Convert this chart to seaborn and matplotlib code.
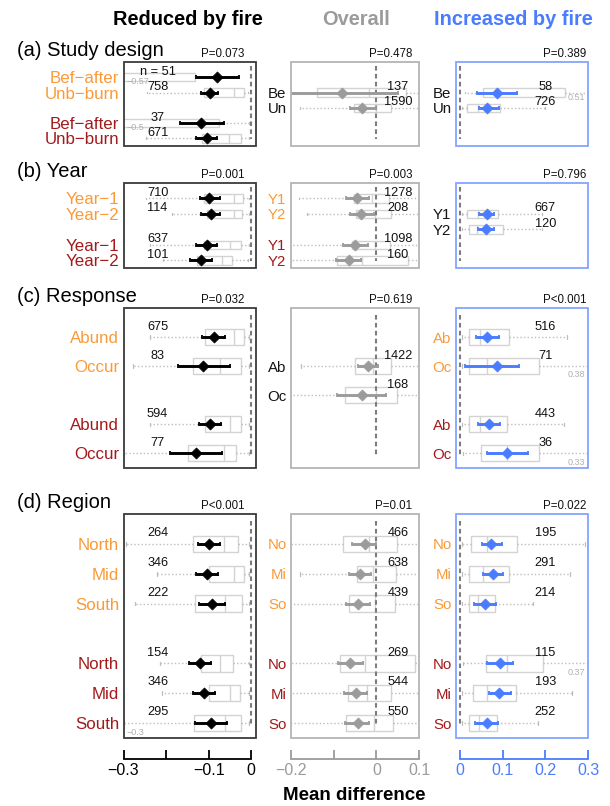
import numpy as np
import pandas as pd
import matplotlib
matplotlib.use("Agg")
import matplotlib.pyplot as plt
from matplotlib.patches import Rectangle
import seaborn as sns

sns.set_theme(style="white")
plt.rcParams["font.family"] = ["Liberation Sans", "DejaVu Sans"]
plt.rcParams["axes.unicode_minus"] = True

FIG_W, FIG_H = 610, 806

# ---------------------------------------------------------------- labels
a_long = ["Bef−after", "Unb−burn", "Bef−after", "Unb−burn"]
a_short = ["Be", "Un"]
b_long = ["Year−1", "Year−2", "Year−1", "Year−2"]
b_short = ["Y1", "Y2", "Y1", "Y2"]
b_short2 = ["Y1", "Y2"]
c_long = ["Abund", "Occur", "Abund", "Occur"]
c_short = ["Ab", "Oc", "Ab", "Oc"]
c_short2 = ["Ab", "Oc"]
d_long = ["North", "Mid", "South", "North", "Mid", "South"]
d_short = ["No", "Mi", "So", "No", "Mi", "So"]

section_titles = ["(a) Study design", "(b) Year", "(c) Response", "(d) Region"]
column_titles = ["Reduced by fire", "Overall", "Increased by fire"]
p_values = [["P=0.073", "P=0.478", "P=0.389"],
            ["P=0.001", "P=0.003", "P=0.796"],
            ["P=0.032", "P=0.619", "P<0.001"],
            ["P<0.001", "P=0.01", "P=0.022"]]

# group codes: 1 = first group (orange), 2 = second group (dark red), 0 = pooled (black)
# box rows: (lower whisker, Q1, median, Q3, upper whisker)

# ---------------------------------------------------------------- (a) Study design
red_a_group = [1, 1, 2, 2]
red_a_n = [51, 758, 37, 671]
red_a_mean = [-0.080, -0.098, -0.117, -0.104]
red_a_lo = [-0.129, -0.119, -0.168, -0.129]
red_a_hi = [-0.028, -0.077, -0.063, -0.080]
red_a_box = [(-0.57, -0.36, -0.31, -0.133, -0.040),
             (-0.244, -0.112, -0.041, -0.018, -0.008),
             (-0.50, -0.36, -0.31, -0.076, -0.006),
             (-0.247, -0.116, -0.053, -0.024, -0.006)]

all_a_group = [0, 0]
all_a_n = [137, 1590]
all_a_mean = [-0.081, -0.033]
all_a_lo = [-0.213, -0.062]
all_a_hi = [0.050, -0.002]
all_a_box = [(-0.30, -0.138, -0.017, 0.068, 0.15),
             (-0.178, -0.052, -0.002, 0.033, 0.15)]

inc_a_group = [0, 0]
inc_a_n = [58, 726]
inc_a_mean = [0.086, 0.064]
inc_a_lo = [0.039, 0.045]
inc_a_hi = [0.133, 0.092]
inc_a_box = [(0.012, 0.055, 0.085, 0.245, 0.51),
             (0.004, 0.017, 0.043, 0.094, 0.20)]

# ---------------------------------------------------------------- (b) Year
red_b_group = [1, 1, 2, 2]
red_b_n = [710, 114, 637, 101]
red_b_mean = [-0.100, -0.094, -0.105, -0.117]
red_b_lo = [-0.121, -0.118, -0.129, -0.143]
red_b_hi = [-0.074, -0.073, -0.080, -0.092]
red_b_box = [(-0.246, -0.112, -0.041, -0.020, -0.006),
             (-0.186, -0.105, -0.040, -0.022, -0.006),
             (-0.237, -0.110, -0.049, -0.024, -0.006),
             (-0.207, -0.127, -0.069, -0.045, -0.008)]

all_b_group = [1, 1, 2, 2]
all_b_n = [1278, 208, 1098, 160]
all_b_mean = [-0.045, -0.035, -0.050, -0.065]
all_b_lo = [-0.071, -0.062, -0.079, -0.095]
all_b_hi = [-0.017, -0.006, -0.019, -0.035]
all_b_box = [(-0.180, -0.053, -0.010, 0.030, 0.15),
             (-0.161, -0.047, -0.004, 0.033, 0.15),
             (-0.25, -0.058, -0.004, 0.031, 0.15),
             (-0.25, -0.093, -0.033, 0.074, 0.15)]

inc_b_group = [0, 0]
inc_b_n = [667, 120]
inc_b_mean = [0.063, 0.061]
inc_b_lo = [0.045, 0.043]
inc_b_hi = [0.080, 0.080]
inc_b_box = [(0.004, 0.017, 0.043, 0.088, 0.192),
             (0.004, 0.020, 0.041, 0.100, 0.192)]

# ---------------------------------------------------------------- (c) Response
red_c_group = [1, 1, 2, 2]
red_c_n = [675, 83, 594, 77]
red_c_mean = [-0.088, -0.113, -0.098, -0.129]
red_c_lo = [-0.116, -0.173, -0.123, -0.191]
red_c_hi = [-0.062, -0.051, -0.070, -0.069]
red_c_box = [(-0.238, -0.108, -0.040, -0.018, -0.006),
             (-0.277, -0.137, -0.073, -0.024, -0.006),
             (-0.237, -0.109, -0.049, -0.024, -0.006),
             (-0.298, -0.149, -0.063, -0.035, -0.006)]

all_c_group = [0, 0]
all_c_n = [1422, 168]
all_c_mean = [-0.019, -0.034]
all_c_lo = [-0.043, -0.091]
all_c_hi = [0.004, 0.022]
all_c_box = [(-0.177, -0.050, -0.008, 0.033, 0.15),
             (-0.25, -0.073, 0.000, 0.048, 0.15)]

inc_c_group = [1, 1, 2, 2]
inc_c_n = [516, 71, 443, 36]
inc_c_mean = [0.064, 0.086, 0.069, 0.111]
inc_c_lo = [0.038, 0.012, 0.043, 0.063]
inc_c_hi = [0.091, 0.139, 0.094, 0.160]
inc_c_box = [(0.004, 0.020, 0.047, 0.114, 0.250),
             (0.004, 0.020, 0.063, 0.185, 0.38),
             (0.004, 0.022, 0.047, 0.111, 0.243),
             (0.008, 0.049, 0.110, 0.185, 0.33)]

# ---------------------------------------------------------------- (d) Region
red_d_group = [1, 1, 1, 2, 2, 2]
red_d_n = [264, 346, 222, 154, 346, 295]
red_d_mean = [-0.100, -0.104, -0.092, -0.121, -0.112, -0.094]
red_d_lo = [-0.125, -0.129, -0.123, -0.147, -0.137, -0.131]
red_d_hi = [-0.074, -0.079, -0.061, -0.094, -0.084, -0.057]
red_d_box = [(-0.293, -0.137, -0.065, -0.030, -0.006),
             (-0.222, -0.100, -0.040, -0.018, -0.006),
             (-0.272, -0.133, -0.061, -0.022, -0.006),
             (-0.215, -0.117, -0.073, -0.043, -0.006),
             (-0.209, -0.100, -0.049, -0.026, -0.006),
             (-0.30, -0.135, -0.061, -0.024, -0.006)]

all_d_group = [1, 1, 1, 2, 2, 2]
all_d_n = [466, 638, 439, 269, 544, 550]
all_d_mean = [-0.027, -0.039, -0.043, -0.062, -0.048, -0.044]
all_d_lo = [-0.056, -0.064, -0.071, -0.089, -0.076, -0.073]
all_d_hi = [-0.002, -0.012, -0.014, -0.031, -0.022, -0.017]
all_d_box = [(-0.25, -0.079, -0.017, 0.048, 0.15),
             (-0.178, -0.045, -0.009, 0.045, 0.15),
             (-0.25, -0.064, -0.004, 0.043, 0.15),
             (-0.25, -0.085, -0.027, 0.091, 0.15),
             (-0.25, -0.067, -0.023, 0.033, 0.15),
             (-0.25, -0.071, -0.006, 0.039, 0.15)]

inc_d_group = [1, 1, 1, 2, 2, 2]
inc_d_n = [195, 291, 214, 115, 193, 252]
inc_d_mean = [0.073, 0.077, 0.059, 0.094, 0.092, 0.063]
inc_d_lo = [0.051, 0.053, 0.034, 0.064, 0.067, 0.035]
inc_d_hi = [0.098, 0.100, 0.084, 0.124, 0.119, 0.088]
inc_d_box = [(0.004, 0.027, 0.064, 0.133, 0.293),
             (0.004, 0.022, 0.055, 0.116, 0.257),
             (0.004, 0.020, 0.043, 0.082, 0.172),
             (0.008, 0.061, 0.111, 0.194, 0.37),
             (0.004, 0.030, 0.064, 0.131, 0.262),
             (0.004, 0.020, 0.045, 0.086, 0.182)]

PANELS = {
    ("a", "red"): (a_long, red_a_group, red_a_n, red_a_mean, red_a_lo, red_a_hi, red_a_box),
    ("a", "all"): (a_short, all_a_group, all_a_n, all_a_mean, all_a_lo, all_a_hi, all_a_box),
    ("a", "inc"): (a_short, inc_a_group, inc_a_n, inc_a_mean, inc_a_lo, inc_a_hi, inc_a_box),
    ("b", "red"): (b_long, red_b_group, red_b_n, red_b_mean, red_b_lo, red_b_hi, red_b_box),
    ("b", "all"): (b_short, all_b_group, all_b_n, all_b_mean, all_b_lo, all_b_hi, all_b_box),
    ("b", "inc"): (b_short2, inc_b_group, inc_b_n, inc_b_mean, inc_b_lo, inc_b_hi, inc_b_box),
    ("c", "red"): (c_long, red_c_group, red_c_n, red_c_mean, red_c_lo, red_c_hi, red_c_box),
    ("c", "all"): (c_short2, all_c_group, all_c_n, all_c_mean, all_c_lo, all_c_hi, all_c_box),
    ("c", "inc"): (c_short, inc_c_group, inc_c_n, inc_c_mean, inc_c_lo, inc_c_hi, inc_c_box),
    ("d", "red"): (d_long, red_d_group, red_d_n, red_d_mean, red_d_lo, red_d_hi, red_d_box),
    ("d", "all"): (d_short, all_d_group, all_d_n, all_d_mean, all_d_lo, all_d_hi, all_d_box),
    ("d", "inc"): (d_short, inc_d_group, inc_d_n, inc_d_mean, inc_d_lo, inc_d_hi, inc_d_box),
}

# ---------------------------------------------------------------- styling / layout
SECTIONS = ["a", "b", "c", "d"]
COLUMNS = ["red", "all", "inc"]
N_SLOTS = {"a": 5, "b": 5, "c": 5, "d": 7}
COL_X = {"red": (123.5, 255.5), "all": (290.7, 419.3), "inc": (455.7, 588.0)}
ROW_Y = {"a": (62, 146), "b": (183, 268), "c": (308, 468), "d": (514, 738)}
XLIM = {"red": (-0.3, 0.01), "all": (-0.2, 0.1), "inc": (-0.01, 0.3)}
RANGE = {"red": (-0.3, 0.0), "all": (-0.2, 0.1), "inc": (0.0, 0.3)}
TICKS = {"red": [-0.3, -0.2, -0.1, 0.0], "all": [-0.2, -0.1, 0.0, 0.1],
         "inc": [0.0, 0.1, 0.2, 0.3]}
TICKLAB = {"red": ["−0.3", "", "−0.1", "0"], "all": ["−0.2", "", "0", "0.1"],
           "inc": ["0", "0.1", "0.2", "0.3"]}
N_X = {"red": -0.22, "all": 0.05, "inc": 0.2}

ORANGE = "#fb9a38"
DARKRED = "#a31a1c"
INK = "#141414"
GREY = "#9b9b9b"
BLUE = "#4a7cff"
GROUP_COLOR = {0: INK, 1: ORANGE, 2: DARKRED}
MARK = {"red": "#000000", "all": GREY, "inc": BLUE}
FRAME = {"red": "#3a3a3a", "all": "#b4b4b4", "inc": "#84a4ff"}
AXIS_COLOR = {"red": "#000000", "all": GREY, "inc": BLUE}
LABEL_SIZE = {"red": 12.2, "all": 10.8, "inc": 10.8}
BOX_EDGE = "#d3d3d3"
WHISKER = "#bdbdbd"
NOTE = "#b0b0b0"


def slot_positions(groups):
    if all(g == 0 for g in groups):
        return [2 + i for i in range(len(groups))]
    return [i + 1 if g == 1 else i + 2 for i, g in enumerate(groups)]


fig = plt.figure(figsize=(FIG_W / 100, FIG_H / 100), dpi=100)


def px_axes(x0, x1, y0, y1):
    return fig.add_axes([x0 / FIG_W, 1 - y1 / FIG_H, (x1 - x0) / FIG_W, (y1 - y0) / FIG_H])


def ftext(x, y, s, **kw):
    fig.text(x / FIG_W, 1 - y / FIG_H, s, **kw)


def draw_boxes(ax, stats, slots):
    kw = dict(positions=slots, widths=0.55, showfliers=False, patch_artist=True,
              manage_ticks=False, capwidths=0.12,
              boxprops=dict(facecolor="white", edgecolor=BOX_EDGE, linewidth=1.0),
              whiskerprops=dict(color=WHISKER, linestyle=(0, (1.0, 1.6)), linewidth=1.0),
              capprops=dict(color=WHISKER, linewidth=0.9),
              medianprops=dict(color=BOX_EDGE, linewidth=1.0))
    try:
        ax.bxp(stats, orientation="horizontal", **kw)
    except TypeError:
        ax.bxp(stats, vert=False, **kw)


def draw_panel(ax, sec, col, first):
    labels, groups, n, mean, lo, hi, box = PANELS[(sec, col)]
    slots = slot_positions(groups)
    nslot = N_SLOTS[sec]
    c = MARK[col]

    stats = [dict(whislo=b[0], q1=b[1], med=b[2], q3=b[3], whishi=b[4], fliers=[])
             for b in box]
    draw_boxes(ax, stats, slots)

    ax.vlines(0, 0.25, nslot + 0.05, colors="#7c7c7c", linestyles=(0, (2.2, 1.6)),
              linewidth=1.5, zorder=3)

    mean_arr = np.asarray(mean)
    ax.errorbar(mean_arr, slots, xerr=[mean_arr - np.asarray(lo), np.asarray(hi) - mean_arr],
                fmt="none", ecolor=c, elinewidth=2.1, capsize=1.7, capthick=1.3, zorder=4)
    df = pd.DataFrame({"mean": mean, "slot": slots})
    sns.scatterplot(data=df, x="mean", y="slot", marker="D", s=32, color=c,
                    edgecolor=c, linewidth=0.5, ax=ax, zorder=5, legend=False)

    for i, (s, k) in enumerate(zip(slots, n)):
        txt = f"n = {k}" if (first and i == 0) else str(k)
        ax.text(N_X[col], s - 0.36, txt, ha="center", va="center", fontsize=9.2,
                color="#111111", zorder=6)

    # whiskers running past the plotted range get their value written in
    if col != "all":
        r0, r1 = RANGE[col]
        for s, b in zip(slots, box):
            if b[0] <= r0:
                ax.text(0.02, s + 0.3, f"{b[0]:g}".replace("-", "−"),
                        transform=ax.get_yaxis_transform(), ha="left", va="center",
                        fontsize=6.5, color=NOTE, zorder=6)
            if b[4] >= r1:
                ax.text(0.98, s + 0.3, f"{b[4]:g}".replace("-", "−"),
                        transform=ax.get_yaxis_transform(), ha="right", va="center",
                        fontsize=6.5, color=NOTE, zorder=6)

    ax.set_xlim(*XLIM[col])
    ax.set_ylim(nslot + 0.5, 0)
    ax.set_xlabel("")
    ax.set_ylabel("")
    ax.set_yticks(slots)
    ax.set_yticklabels(labels, fontsize=LABEL_SIZE[col])
    for t, g in zip(ax.get_yticklabels(), groups):
        t.set_color(GROUP_COLOR[g])
    ax.tick_params(axis="y", left=False, length=0, pad=3)
    ax.set_facecolor("none")
    for sp in ax.spines.values():
        sp.set_visible(False)
    ax.add_patch(Rectangle((0, 0), 1, 1, transform=ax.transAxes, fill=False,
                           edgecolor=FRAME[col], linewidth=1.3, clip_on=False, zorder=10))

    if sec == "d":
        sp = ax.spines["bottom"]
        sp.set_visible(True)
        sp.set_position(("outward", 15))
        sp.set_bounds(*RANGE[col])
        sp.set_color(AXIS_COLOR[col])
        sp.set_linewidth(1.3)
        ax.set_xticks(TICKS[col])
        ax.set_xticklabels(TICKLAB[col])
        ax.tick_params(axis="x", bottom=True, labelbottom=True, direction="in",
                       length=6.5, width=1.3, colors=AXIS_COLOR[col],
                       labelsize=11.5, pad=3)
    else:
        ax.set_xticks([])


for sec in SECTIONS:
    y0, y1 = ROW_Y[sec]
    for col in COLUMNS:
        x0, x1 = COL_X[col]
        ax = px_axes(x0, x1, y0, y1)
        draw_panel(ax, sec, col, first=(sec == "a" and col == "red"))

# column headers
ftext(188, 25, column_titles[0], ha="center", va="baseline", fontsize=14.4,
      fontweight="bold", color="#000000")
ftext(356, 25, column_titles[1], ha="center", va="baseline", fontsize=14.4,
      fontweight="bold", color=GREY)
ftext(513, 25, column_titles[2], ha="center", va="baseline", fontsize=14.4,
      fontweight="bold", color=BLUE)

# section titles and P-values
P_RIGHT = {"red": 244, "all": 412, "inc": 586}
for k, sec in enumerate(SECTIONS):
    top = ROW_Y[sec][0]
    ftext(17, top - 6, section_titles[k], ha="left", va="baseline", fontsize=14.5,
          color="#000000")
    for j, col in enumerate(COLUMNS):
        ftext(P_RIGHT[col], top - 5, p_values[k][j], ha="right", va="baseline",
              fontsize=8.3, color="#111111")

ftext(354, 800, "Mean difference", ha="center", va="baseline", fontsize=13.5,
      fontweight="bold", color="#000000")

fig.savefig("out.png", dpi=100)
